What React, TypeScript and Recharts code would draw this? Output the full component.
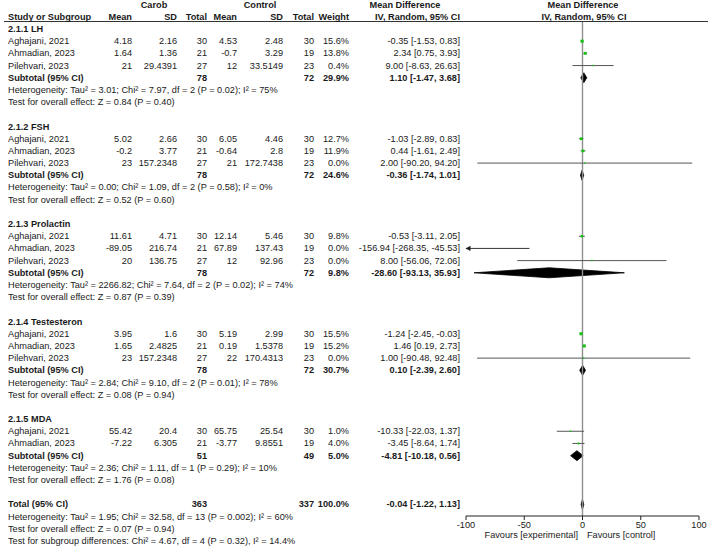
import React from "react";
import { ComposedChart, XAxis, YAxis, Scatter, ErrorBar, Area, ReferenceLine } from "recharts";

const groups = ["2.1.1 LH", "2.1.2 FSH", "2.1.3 Prolactin", "2.1.4 Testesteron", "2.1.5 MDA"];

// group, study, carob mean / sd / n, control mean / sd / n, weight %, MD, lower, upper
const studies: [number, string, number, number, number, number, number, number, number, number, number, number][] = [
  [0, "Aghajani, 2021", 4.18, 2.16, 30, 4.53, 2.48, 30, 15.6, -0.35, -1.53, 0.83],
  [0, "Ahmadian, 2023", 1.64, 1.36, 21, -0.7, 3.29, 19, 13.8, 2.34, 0.75, 3.93],
  [0, "Pilehvari, 2023", 21, 29.4391, 27, 12, 33.5149, 23, 0.4, 9.0, -8.63, 26.63],
  [1, "Aghajani, 2021", 5.02, 2.66, 30, 6.05, 4.46, 30, 12.7, -1.03, -2.89, 0.83],
  [1, "Ahmadian, 2023", -0.2, 3.77, 21, -0.64, 2.8, 19, 11.9, 0.44, -1.61, 2.49],
  [1, "Pilehvari, 2023", 23, 157.2348, 27, 21, 172.7438, 23, 0.0, 2.0, -90.2, 94.2],
  [2, "Aghajani, 2021", 11.61, 4.71, 30, 12.14, 5.46, 30, 9.8, -0.53, -3.11, 2.05],
  [2, "Ahmadian, 2023", -89.05, 216.74, 21, 67.89, 137.43, 19, 0.0, -156.94, -268.35, -45.53],
  [2, "Pilehvari, 2023", 20, 136.75, 27, 12, 92.96, 23, 0.0, 8.0, -56.06, 72.06],
  [3, "Aghajani, 2021", 3.95, 1.6, 30, 5.19, 2.99, 30, 15.5, -1.24, -2.45, -0.03],
  [3, "Ahmadian, 2023", 1.65, 2.4825, 21, 0.19, 1.5378, 19, 15.2, 1.46, 0.19, 2.73],
  [3, "Pilehvari, 2023", 23, 157.2348, 27, 22, 170.4313, 23, 0.0, 1.0, -90.48, 92.48],
  [4, "Aghajani, 2021", 55.42, 20.4, 30, 65.75, 25.54, 30, 1.0, -10.33, -22.03, 1.37],
  [4, "Ahmadian, 2023", -7.22, 6.305, 21, -3.77, 9.8551, 19, 4.0, -3.45, -8.64, 1.74],
];

// carob n, control n, weight %, MD, lower, upper
const subtotals = [
  [78, 72, 29.9, 1.1, -1.47, 3.68],
  [78, 72, 24.6, -0.36, -1.74, 1.01],
  [78, 72, 9.8, -28.6, -93.13, 35.93],
  [78, 72, 30.7, 0.1, -2.39, 2.6],
  [51, 49, 5.0, -4.81, -10.18, 0.56],
];
const total = [363, 337, 100.0, -0.04, -1.22, 1.13];

const heterogeneity = [
  "Heterogeneity: Tau² = 3.01; Chi² = 7.97, df = 2 (P = 0.02); I² = 75%",
  "Heterogeneity: Tau² = 0.00; Chi² = 1.09, df = 2 (P = 0.58); I² = 0%",
  "Heterogeneity: Tau² = 2266.82; Chi² = 7.64, df = 2 (P = 0.02); I² = 74%",
  "Heterogeneity: Tau² = 2.84; Chi² = 9.10, df = 2 (P = 0.01); I² = 78%",
  "Heterogeneity: Tau² = 2.36; Chi² = 1.11, df = 1 (P = 0.29); I² = 10%",
];
const overallEffect = [
  "Test for overall effect: Z = 0.84 (P = 0.40)",
  "Test for overall effect: Z = 0.52 (P = 0.60)",
  "Test for overall effect: Z = 0.87 (P = 0.39)",
  "Test for overall effect: Z = 0.08 (P = 0.94)",
  "Test for overall effect: Z = 1.76 (P = 0.08)",
];
const totalNotes = [
  "Heterogeneity: Tau² = 1.95; Chi² = 32.58, df = 13 (P = 0.002); I² = 60%",
  "Test for overall effect: Z = 0.07 (P = 0.94)",
  "Test for subgroup differences: Chi² = 4.67, df = 4 (P = 0.32), I² = 14.4%",
];
const xTicks = [-100, -50, 0, 50, 100];

const FONT = '"Liberation Sans", Arial, Helvetica, sans-serif';
const W = 708;
const H = 548;
const ROW_Y0 = 16.8;
const ROW_H = 12.19;
const PLOT_TOP = 22;
const AXIS_Y = 516;
const yOf = (slot: number) => ROW_Y0 + slot * ROW_H;
const Y_DOMAIN = [(PLOT_TOP - ROW_Y0) / ROW_H, (AXIS_Y - ROW_Y0) / ROW_H];
const X_MIN = -100;
const X_MAX = 100;

const COL = { name: 8, cMean: 132, cSD: 177, cN: 207, kMean: 237, kSD: 283, kN: 314, weight: 349, md: 460 };

type Cell = { x: number; text: string; align: "l" | "r" | "c"; bold?: boolean };
type TextRow = { slot: number; cells: Cell[] };

const f2 = (v: number) => v.toFixed(2);
const mdText = (e: number, lo: number, hi: number) => `${f2(e)} [${f2(lo)}, ${f2(hi)}]`;

const textRows: TextRow[] = [];
const squares: any[] = [];
const arrows: any[] = [];
const diamonds: { x: number; band: number[] }[][] = [];

textRows.push({
  slot: -1,
  cells: [
    { x: 154, text: "Carob", align: "c", bold: true },
    { x: 260, text: "Control", align: "c", bold: true },
    { x: 405, text: "Mean Difference", align: "c", bold: true },
    { x: 583, text: "Mean Difference", align: "c", bold: true },
  ],
});
textRows.push({
  slot: 0,
  cells: [
    { x: COL.name, text: "Study or Subgroup", align: "l", bold: true },
    { x: COL.cMean, text: "Mean", align: "r", bold: true },
    { x: COL.cSD, text: "SD", align: "r", bold: true },
    { x: COL.cN, text: "Total", align: "r", bold: true },
    { x: COL.kMean, text: "Mean", align: "r", bold: true },
    { x: COL.kSD, text: "SD", align: "r", bold: true },
    { x: COL.kN, text: "Total", align: "r", bold: true },
    { x: COL.weight, text: "Weight", align: "r", bold: true },
    { x: COL.md, text: "IV, Random, 95% CI", align: "r", bold: true },
    { x: 584, text: "IV, Random, 95% CI", align: "c", bold: true },
  ],
});

const pushDiamond = (slot: number, e: number, lo: number, hi: number) => {
  diamonds.push([
    { x: lo, band: [slot, slot] },
    { x: e, band: [slot - 0.41, slot + 0.41] },
    { x: hi, band: [slot, slot] },
  ]);
};

let slot = 1;
groups.forEach((g, gi) => {
  textRows.push({ slot: slot++, cells: [{ x: COL.name, text: g, align: "l", bold: true }] });
  studies
    .filter((s) => s[0] === gi)
    .forEach((s) => {
      const [, name, cm, csd, cn, km, ksd, kn, w, e, lo, hi] = s;
      textRows.push({
        slot,
        cells: [
          { x: COL.name, text: name, align: "l" },
          { x: COL.cMean, text: String(cm), align: "r" },
          { x: COL.cSD, text: String(csd), align: "r" },
          { x: COL.cN, text: String(cn), align: "r" },
          { x: COL.kMean, text: String(km), align: "r" },
          { x: COL.kSD, text: String(ksd), align: "r" },
          { x: COL.kN, text: String(kn), align: "r" },
          { x: COL.weight, text: w.toFixed(1) + "%", align: "r" },
          { x: COL.md, text: mdText(e, lo, hi), align: "r" },
        ],
      });
      if (e >= X_MIN && e <= X_MAX) {
        squares.push({ x: e, slot, w, err: [e - Math.max(lo, X_MIN), Math.min(hi, X_MAX) - e] });
      } else if (e < X_MIN) {
        arrows.push({ x: X_MIN, slot, err: [0, Math.min(hi, X_MAX) - X_MIN] });
      }
      slot++;
    });
  const [cn, kn, w, e, lo, hi] = subtotals[gi];
  textRows.push({
    slot,
    cells: [
      { x: COL.name, text: "Subtotal (95% CI)", align: "l", bold: true },
      { x: COL.cN, text: String(cn), align: "r", bold: true },
      { x: COL.kN, text: String(kn), align: "r", bold: true },
      { x: COL.weight, text: w.toFixed(1) + "%", align: "r", bold: true },
      { x: COL.md, text: mdText(e, lo, hi), align: "r", bold: true },
    ],
  });
  pushDiamond(slot, e, lo, hi);
  slot++;
  textRows.push({ slot: slot++, cells: [{ x: COL.name, text: heterogeneity[gi], align: "l" }] });
  textRows.push({ slot: slot++, cells: [{ x: COL.name, text: overallEffect[gi], align: "l" }] });
  slot++;
});

{
  const [cn, kn, w, e, lo, hi] = total;
  textRows.push({
    slot,
    cells: [
      { x: COL.name, text: "Total (95% CI)", align: "l", bold: true },
      { x: COL.cN, text: String(cn), align: "r", bold: true },
      { x: COL.kN, text: String(kn), align: "r", bold: true },
      { x: COL.weight, text: w.toFixed(1) + "%", align: "r", bold: true },
      { x: COL.md, text: mdText(e, lo, hi), align: "r", bold: true },
    ],
  });
  pushDiamond(slot, e, lo, hi);
  slot++;
  totalNotes.forEach((t) => textRows.push({ slot: slot++, cells: [{ x: COL.name, text: t, align: "l" }] }));
}

const Square = (p: any) => {
  const s = 1.4 + p.payload.w * 0.11;
  return <rect x={p.cx - s / 2} y={p.cy - s / 2} width={s} height={s} fill="#16c416" />;
};

const Arrow = (p: any) => <path d={`M${p.cx - 0.5},${p.cy} l5,-2.6 l0,5.2 z`} fill="#222" />;

function TextCell({ cell, top }: { cell: Cell; top: number }) {
  const style: React.CSSProperties = {
    position: "absolute",
    top,
    whiteSpace: "nowrap",
    lineHeight: "12px",
    fontWeight: cell.bold ? "bold" : "normal",
  };
  if (cell.align === "l") style.left = cell.x;
  else if (cell.align === "r") style.right = W - cell.x;
  else {
    style.left = cell.x;
    style.transform = "translateX(-50%)";
  }
  return <div style={style}>{cell.text}</div>;
}

export default function App() {
  return (
    <div
      style={{
        position: "absolute",
        left: 0,
        top: 0,
        width: W,
        height: H,
        background: "#fff",
        fontFamily: FONT,
        fontSize: 9.2,
        color: "#1a1a1a",
        overflow: "hidden",
      }}
    >
      <ComposedChart width={W} height={H} margin={{ top: PLOT_TOP, right: W - 699, bottom: 0, left: 466 }}>
        <XAxis
          type="number"
          dataKey="x"
          domain={[X_MIN, X_MAX]}
          ticks={xTicks}
          interval={0}
          height={H - AXIS_Y}
          tickSize={4}
          tickMargin={1}
          axisLine={{ stroke: "#222" }}
          tickLine={{ stroke: "#222" }}
          tick={{ fontSize: 9.2, fill: "#1a1a1a", fontFamily: FONT }}
        />
        <YAxis type="number" dataKey="slot" domain={Y_DOMAIN} reversed hide />
        <ReferenceLine x={0} stroke="#8f8f8f" strokeWidth={1.4} />
        {diamonds.map((d, i) => (
          <Area
            key={i}
            type="linear"
            data={d}
            dataKey="band"
            stroke="#000"
            strokeWidth={0.8}
            fill="#000"
            fillOpacity={1}
            dot={false}
            activeDot={false}
            isAnimationActive={false}
          />
        ))}
        <Scatter data={squares} shape={Square} isAnimationActive={false}>
          <ErrorBar dataKey="err" direction="x" width={0} stroke="#555" strokeWidth={1} />
        </Scatter>
        <Scatter data={arrows} shape={Arrow} isAnimationActive={false}>
          <ErrorBar dataKey="err" direction="x" width={0} stroke="#333" strokeWidth={1} />
        </Scatter>
      </ComposedChart>
      <div style={{ position: "absolute", left: 4, top: 21, width: W - 4, height: 1, background: "#333" }} />
      {textRows.map((r, i) =>
        r.cells.map((c, j) => <TextCell key={`${i}-${j}`} cell={c} top={yOf(r.slot) - 6} />)
      )}
      <div style={{ position: "absolute", right: W - 578, top: 529, lineHeight: "12px", whiteSpace: "nowrap" }}>
        Favours [experimental]
      </div>
      <div style={{ position: "absolute", left: 587, top: 529, lineHeight: "12px", whiteSpace: "nowrap" }}>
        Favours [control]
      </div>
    </div>
  );
}
